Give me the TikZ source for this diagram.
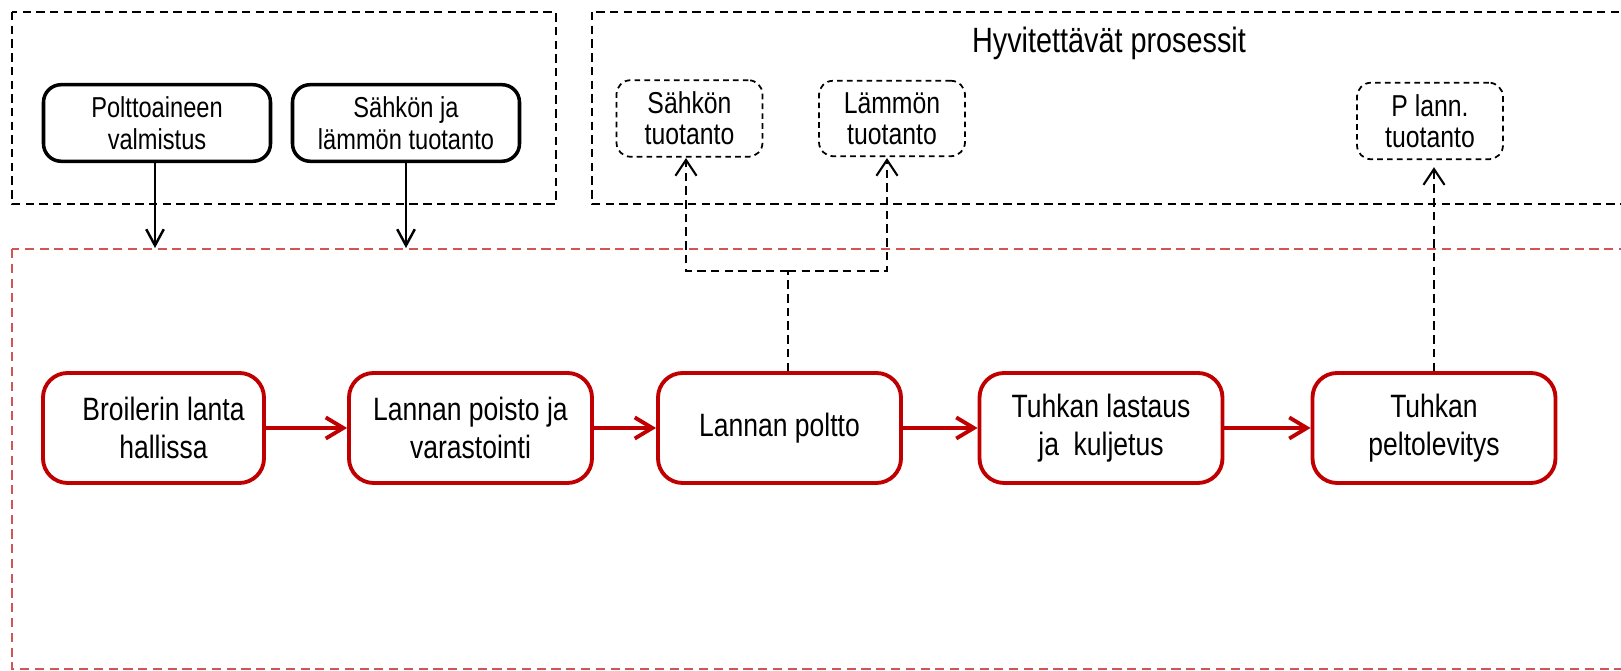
\documentclass[tikz,border=0pt]{standalone}
\usepackage{fontspec}
\setmainfont{Liberation Sans}[FakeStretch=0.82]
\usetikzlibrary{arrows.meta,positioning}
\definecolor{darkred}{RGB}{192,0,0}
\definecolor{lightred}{RGB}{210,85,85}

\begin{document}
\begin{tikzpicture}[
    redbox/.style={draw=darkred,line width=1.1pt,rounded corners=7pt,minimum width=2.43cm,minimum height=1.1cm,align=center,font=\fontsize{9.2}{10.8}\selectfont},
    blackbox/.style={draw,line width=1pt,rounded corners=5pt,minimum width=2.27cm,minimum height=0.74cm,align=center,font=\fontsize{8.2}{9.1}\selectfont},
    creditbox/.style={draw,line width=0.5pt,dash pattern=on 1.6pt off 1.2pt,rounded corners=4pt,minimum width=1.46cm,minimum height=0.65cm,align=center,font=\fontsize{8.6}{8.8}\selectfont},
    frame/.style={line width=0.7pt,dash pattern=on 2.4pt off 1.5pt},
    creditline/.style={line width=0.6pt,dash pattern=on 2.4pt off 1.5pt},
    redarrow/.style={draw=darkred,line width=1.1pt,-{Straight Barb[length=5pt,width=6pt,line width=1.1pt]}},
    blackarrow/.style={line width=0.7pt,-{Straight Barb[length=4.6pt,width=5pt,line width=0.7pt]}},
    creditarrow/.style={creditline,shorten >=2pt,-{Straight Barb[length=4.5pt,width=6pt,line width=0.6pt]}}
]
    \useasboundingbox (0,0) rectangle (16.21,-6.71);
    \draw[frame] (0.12,-0.12) rectangle (5.56,-2.04);
    \draw[frame] (5.92,-0.12) rectangle (16.4,-2.04);
    \draw[lightred,line width=0.6pt,dash pattern=on 2.6pt off 1.6pt] (0.12,-2.49) rectangle (16.4,-6.69);
    \node (title) at (11.09,-0.43) {\fontsize{10}{12}\selectfont Hyvitettävät prosessit};

    \node[blackbox] (fuel) at (1.57,-1.23) {Polttoaineen\\valmistus};
    \node[blackbox] (energy) at (4.06,-1.23) {Sähkön ja\\lämmön tuotanto};
    \coordinate (fuelin) at (1.55,-2.48);
    \coordinate (energyin) at (4.06,-2.48);
    \draw[blackarrow] (fuel.south -| fuelin) -- (fuelin);
    \draw[blackarrow] (energy.south) -- (energyin);

    \node[creditbox] (elec) at (6.895,-1.185) {Sähkön\\tuotanto};
    \node[creditbox] (heat) at (8.92,-1.185) {Lämmön\\tuotanto};
    \node[creditbox] (pfert) at (14.30,-1.21) {P lann.\\tuotanto};

    \node[redbox,minimum width=2.21cm] (manure) at (1.535,-4.28) {\hspace{0.2cm}Broilerin lanta\\\hspace{0.2cm}hallissa};
    \node[redbox] (storage) at (4.705,-4.28) {Lannan poisto ja\\varastointi};
    \node[redbox] (burn) at (7.795,-4.28) {Lannan poltto};
    \node[redbox] (load) at (11.01,-4.28) {Tuhkan lastaus\\ja\ \ kuljetus};
    \node[redbox] (spread) at (14.34,-4.28) {Tuhkan\\peltolevitys};

    \draw[redarrow] (manure) -- (storage);
    \draw[redarrow] (storage) -- (burn);
    \draw[redarrow] (burn) -- (load);
    \draw[redarrow] (load) -- (spread);

    \coordinate (split) at (7.88,-2.71);
    \draw[creditline] (burn.north -| split) -- (split);
    \draw[creditarrow] (split) -| (6.86,-1.51);
    \draw[creditarrow] (split) -| (8.87,-1.51);
    \draw[creditarrow] (spread.north) -- (spread.north |- pfert.south);
\end{tikzpicture}
\end{document}
